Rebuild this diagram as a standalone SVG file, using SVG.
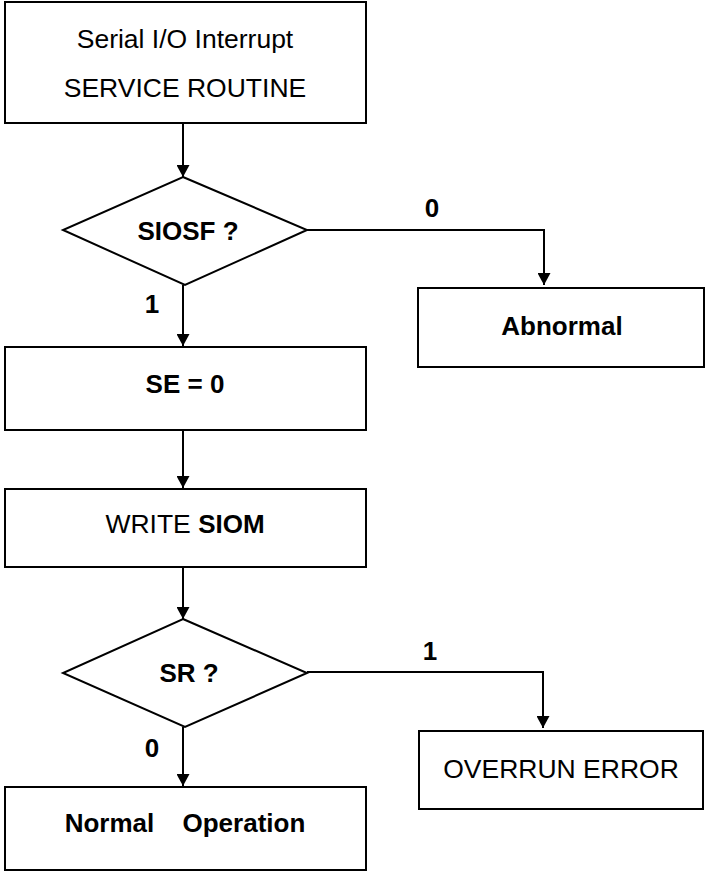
<svg xmlns="http://www.w3.org/2000/svg" width="705" height="872" viewBox="0 0 705 872">
<style>
.box{fill:#fff;stroke:#000;stroke-width:2}
.t{font-family:"Liberation Sans",Arial,sans-serif;font-size:26.5px;fill:#000;text-anchor:middle}
.b{font-weight:bold;font-size:26px}
.c{fill:none;stroke:#000;stroke-width:2}
</style>
<defs>
<marker id="ah" markerUnits="userSpaceOnUse" markerWidth="13" markerHeight="13" refX="12" refY="6.5" orient="auto">
<path d="M0,0 L12,6.5 L0,13 z" fill="#000"/>
</marker>
</defs>
<rect width="705" height="872" fill="#fff"/>
<g id="connectors">
<line class="c" x1="183" y1="123" x2="183" y2="177" marker-end="url(#ah)"/>
<line class="c" x1="183" y1="285" x2="183" y2="346" marker-end="url(#ah)"/>
<line class="c" x1="183" y1="430" x2="183" y2="488" marker-end="url(#ah)"/>
<line class="c" x1="183" y1="567" x2="183" y2="619" marker-end="url(#ah)"/>
<line class="c" x1="183" y1="727" x2="183" y2="786" marker-end="url(#ah)"/>
<polyline class="c" points="307,230 544,230 544,285" marker-end="url(#ah)"/>
<polyline class="c" points="307,672 543,672 543,728" marker-end="url(#ah)"/>
<text class="t b" x="432" y="217">0</text>
<text class="t b" x="152" y="313">1</text>
<text class="t b" x="430" y="660">1</text>
<text class="t b" x="152" y="757">0</text>
</g>
<g id="start">
<rect class="box" x="5" y="2" width="361" height="121"/>
<text class="t" x="185" y="48">Serial I/O Interrupt</text>
<text class="t" x="185" y="97">SERVICE ROUTINE</text>
</g>
<g id="siosf">
<polygon class="box" points="183,177 307,230 185,285 63,230"/>
<text class="t b" x="188" y="240">SIOSF ?</text>
</g>
<g id="abnormal">
<rect class="box" x="418" y="288" width="286" height="79"/>
<text class="t b" x="562" y="335">Abnormal</text>
</g>
<g id="se0">
<rect class="box" x="5" y="347" width="361" height="83"/>
<text class="t b" x="185" y="393">SE = 0</text>
</g>
<g id="writesiom">
<rect class="box" x="5" y="489" width="361" height="78"/>
<text class="t" x="185" y="533">WRITE <tspan class="b">SIOM</tspan></text>
</g>
<g id="sr">
<polygon class="box" points="183,619 307,673 185,727 63,673"/>
<text class="t b" x="189" y="682">SR ?</text>
</g>
<g id="overrun">
<rect class="box" x="419" y="731" width="284" height="78"/>
<text class="t" x="561" y="778">OVERRUN ERROR</text>
</g>
<g id="normal">
<rect class="box" x="5" y="787" width="361" height="83"/>
<text class="t b" x="185" y="832">Normal <tspan dx="21">Operation</tspan></text>
</g>
</svg>
